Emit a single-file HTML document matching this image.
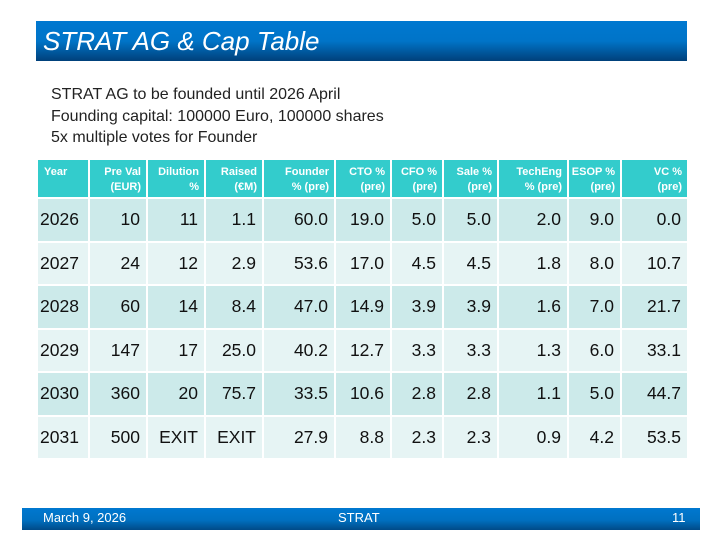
<!DOCTYPE html>
<html><head><style>
body{margin:0;width:720px;height:540px;background:#fff;position:relative;font-family:"Liberation Sans",sans-serif;overflow:hidden}
.title{position:absolute;left:36px;top:21px;width:651px;height:40px;background:linear-gradient(#0078d0 0%,#0074c8 50%,#00407a 100%);color:#fff;font-style:italic;font-weight:normal;font-size:26px;line-height:40px;padding-left:7px;box-sizing:border-box;font-family:"Liberation Sans",sans-serif}
.intro{position:absolute;left:51px;top:84px;font-size:16px;line-height:21.5px;color:#222;font-family:"Liberation Sans",sans-serif}
table{position:absolute;left:36px;top:158px;border-collapse:collapse;width:651px;table-layout:fixed}
td{border:2px solid #fff;text-align:right;padding:0 6px 0 0;font-size:17.5px;color:#111;font-family:"Liberation Sans",sans-serif;overflow:hidden;white-space:nowrap}
td:first-child{text-align:left;padding-left:2px}
tr.h td{background:#33cccc;color:#fff;font-weight:bold;font-size:11px;height:39px;box-sizing:border-box;vertical-align:top;padding-top:5px;padding-right:5px;line-height:15px}
tr.h td:first-child{padding-left:6px}
tr.a td{background:#cceaea;height:43.5px;box-sizing:border-box}
tr.b td{background:#e6f4f4;height:43.5px;box-sizing:border-box}
.foot{position:absolute;left:22px;top:508px;width:678px;height:22px;background:linear-gradient(#0078d0,#0070c0 55%,#004a88);color:#fff;font-size:13px;line-height:20px}
</style></head><body>
<div class="title">STRAT AG &amp; Cap Table</div>
<div class="intro">STRAT AG to be founded until 2026 April<br>Founding capital: 100000 Euro, 100000 shares<br>5x multiple votes for Founder</div>
<table>
<colgroup><col style="width:52px"><col style="width:58px"><col style="width:58px"><col style="width:58px"><col style="width:72px"><col style="width:56px"><col style="width:52px"><col style="width:55px"><col style="width:70px"><col style="width:53px"><col style="width:67px"></colgroup>
<tr class="h"><td>Year</td><td>Pre Val<br>(EUR)</td><td>Dilution<br>%</td><td>Raised<br>(€M)</td><td>Founder<br>% (pre)</td><td>CTO %<br>(pre)</td><td>CFO %<br>(pre)</td><td>Sale %<br>(pre)</td><td>TechEng<br>% (pre)</td><td>ESOP %<br>(pre)</td><td>VC %<br>(pre)</td></tr>
<tr class="a"><td>2026</td><td>10</td><td>11</td><td>1.1</td><td>60.0</td><td>19.0</td><td>5.0</td><td>5.0</td><td>2.0</td><td>9.0</td><td>0.0</td></tr>
<tr class="b"><td>2027</td><td>24</td><td>12</td><td>2.9</td><td>53.6</td><td>17.0</td><td>4.5</td><td>4.5</td><td>1.8</td><td>8.0</td><td>10.7</td></tr>
<tr class="a"><td>2028</td><td>60</td><td>14</td><td>8.4</td><td>47.0</td><td>14.9</td><td>3.9</td><td>3.9</td><td>1.6</td><td>7.0</td><td>21.7</td></tr>
<tr class="b"><td>2029</td><td>147</td><td>17</td><td>25.0</td><td>40.2</td><td>12.7</td><td>3.3</td><td>3.3</td><td>1.3</td><td>6.0</td><td>33.1</td></tr>
<tr class="a"><td>2030</td><td>360</td><td>20</td><td>75.7</td><td>33.5</td><td>10.6</td><td>2.8</td><td>2.8</td><td>1.1</td><td>5.0</td><td>44.7</td></tr>
<tr class="b"><td>2031</td><td>500</td><td>EXIT</td><td>EXIT</td><td>27.9</td><td>8.8</td><td>2.3</td><td>2.3</td><td>0.9</td><td>4.2</td><td>53.5</td></tr>
</table>
<div class="foot"><span style="position:absolute;left:21px">March 9, 2026</span><span style="position:absolute;left:316px">STRAT</span><span style="position:absolute;left:650px">11</span></div>
</body></html>
